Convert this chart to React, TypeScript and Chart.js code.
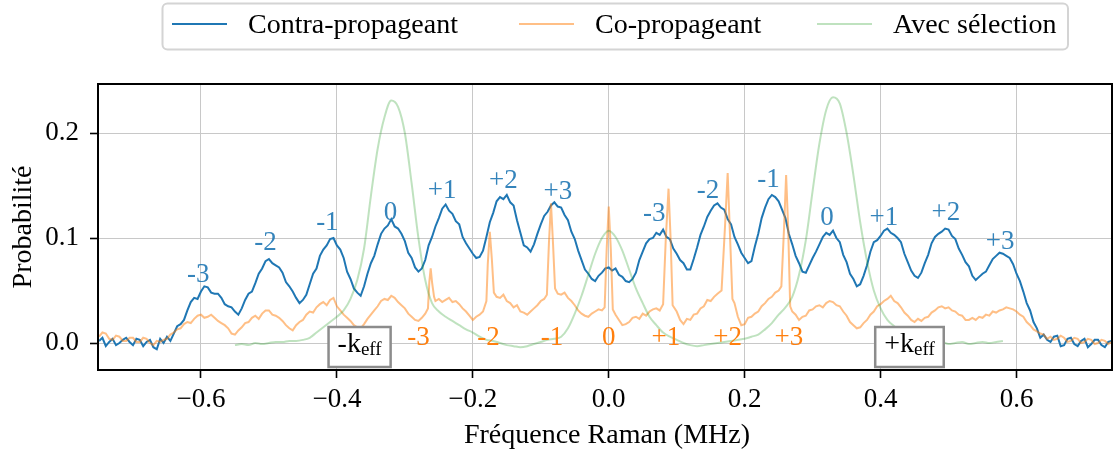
import React, { useEffect, useRef } from "react";
import { Chart, registerables } from "chart.js";

Chart.register(...registerables);

const FONT = '"Liberation Serif", "DejaVu Serif", serif';

// ---------- data ----------
const legendLabels = ["Contra-propageant", "Co-propageant", "Avec sélection"];
const xTicks = [-0.6, -0.4, -0.2, 0, 0.2, 0.4, 0.6];
const yTicks = [0, 0.1, 0.2];
const xLabel = "Fréquence Raman (MHz)";
const yLabel = "Probabilité";

// counter-propagating scan: frequency grid -0.75 ... 0.74 MHz, step 0.005
const contraFreq = Array.from({ length: 299 }, (_, i) => Math.round((-0.75 + i * 0.005) * 1000) / 1000);
const contraProb = [
  0.002, 0.005, -0.003, 0.001, 0.004, -0.002, 0.000, 0.003, 0.005, 0.001, -0.002, 0.004, 0.003, -0.003, 0.001, 0.003, -0.004, -0.006, 0.004, 0.000,
  0.006, 0.002, 0.009, 0.016, 0.018, 0.022, 0.031, 0.039, 0.043, 0.042, 0.049, 0.054, 0.053, 0.048, 0.047, 0.047, 0.043, 0.037, 0.035, 0.034,
  0.030, 0.027, 0.033, 0.041, 0.047, 0.049, 0.057, 0.066, 0.071, 0.078, 0.080, 0.076, 0.074, 0.072, 0.067, 0.058, 0.054, 0.049, 0.043, 0.038,
  0.041, 0.046, 0.056, 0.066, 0.071, 0.083, 0.089, 0.093, 0.099, 0.100, 0.093, 0.089, 0.081, 0.068, 0.061, 0.052, 0.048, 0.045, 0.054, 0.066,
  0.076, 0.083, 0.094, 0.104, 0.109, 0.112, 0.118, 0.111, 0.109, 0.104, 0.097, 0.086, 0.081, 0.072, 0.068, 0.071, 0.079, 0.093, 0.101, 0.111,
  0.119, 0.128, 0.132, 0.126, 0.123, 0.116, 0.113, 0.101, 0.095, 0.090, 0.085, 0.081, 0.082, 0.088, 0.101, 0.115, 0.124, 0.135, 0.139, 0.137,
  0.141, 0.134, 0.131, 0.117, 0.105, 0.093, 0.091, 0.087, 0.094, 0.104, 0.113, 0.121, 0.125, 0.131, 0.134, 0.130, 0.129, 0.122, 0.117, 0.106,
  0.099, 0.088, 0.079, 0.070, 0.066, 0.061, 0.059, 0.064, 0.067, 0.071, 0.072, 0.069, 0.071, 0.065, 0.063, 0.059, 0.058, 0.061, 0.067, 0.079,
  0.087, 0.095, 0.099, 0.100, 0.105, 0.103, 0.108, 0.101, 0.099, 0.090, 0.085, 0.079, 0.076, 0.070, 0.070, 0.080, 0.091, 0.103, 0.111, 0.120,
  0.126, 0.131, 0.133, 0.129, 0.127, 0.118, 0.113, 0.101, 0.094, 0.086, 0.081, 0.076, 0.078, 0.092, 0.104, 0.119, 0.129, 0.137, 0.141, 0.139,
  0.135, 0.127, 0.119, 0.104, 0.094, 0.083, 0.076, 0.068, 0.067, 0.074, 0.081, 0.087, 0.094, 0.101, 0.105, 0.103, 0.107, 0.100, 0.096, 0.084,
  0.077, 0.066, 0.061, 0.054, 0.056, 0.064, 0.074, 0.087, 0.096, 0.098, 0.102, 0.107, 0.109, 0.105, 0.103, 0.100, 0.096, 0.085, 0.077, 0.069,
  0.064, 0.062, 0.067, 0.076, 0.084, 0.095, 0.101, 0.104, 0.106, 0.109, 0.108, 0.102, 0.099, 0.090, 0.084, 0.077, 0.073, 0.064, 0.060, 0.063,
  0.066, 0.068, 0.074, 0.080, 0.083, 0.086, 0.085, 0.083, 0.081, 0.075, 0.066, 0.059, 0.049, 0.038, 0.031, 0.020, 0.014, 0.005, 0.008, 0.003,
  0.001, 0.006, 0.007, -0.003, -0.002, 0.004, 0.005, -0.001, -0.003, 0.002, 0.004, -0.004, -0.001, 0.003, 0.003, -0.002, -0.004, 0.001, 0.002,
];

// co-propagating scan: [frequency (MHz), probability]
const coSamples: [number, number][] = [
  [-0.75, 0.006], [-0.745, 0.010], [-0.74, 0.009], [-0.735, 0.004], [-0.73, 0.003], [-0.725, 0.007], [-0.72, 0.006], [-0.715, 0.002], [-0.71, 0.002], [-0.705, 0.005],
  [-0.70, 0.005], [-0.695, 0.001], [-0.69, 0.001], [-0.685, 0.005], [-0.68, 0.004], [-0.675, 0.000], [-0.67, -0.002], [-0.665, 0.002], [-0.66, 0.001], [-0.655, 0.003],
  [-0.65, 0.004], [-0.645, 0.008], [-0.64, 0.010], [-0.635, 0.013], [-0.63, 0.014], [-0.625, 0.018], [-0.62, 0.020], [-0.615, 0.019], [-0.61, 0.023], [-0.605, 0.026],
  [-0.60, 0.027], [-0.595, 0.024], [-0.59, 0.025], [-0.585, 0.027], [-0.58, 0.024], [-0.575, 0.021], [-0.57, 0.019], [-0.565, 0.017], [-0.56, 0.014], [-0.555, 0.009],
  [-0.55, 0.008], [-0.545, 0.012], [-0.54, 0.015], [-0.535, 0.019], [-0.53, 0.020], [-0.525, 0.024], [-0.52, 0.026], [-0.515, 0.023], [-0.51, 0.028], [-0.505, 0.031],
  [-0.50, 0.031], [-0.495, 0.027], [-0.49, 0.026], [-0.485, 0.024], [-0.48, 0.021], [-0.475, 0.017], [-0.47, 0.014], [-0.465, 0.012], [-0.46, 0.017], [-0.455, 0.020],
  [-0.45, 0.022], [-0.445, 0.027], [-0.44, 0.030], [-0.435, 0.029], [-0.43, 0.034], [-0.425, 0.037], [-0.42, 0.039], [-0.415, 0.036], [-0.41, 0.041], [-0.405, 0.043],
  [-0.40, 0.035], [-0.395, 0.031], [-0.39, 0.027], [-0.385, 0.024], [-0.38, 0.021], [-0.375, 0.017], [-0.37, 0.015], [-0.365, 0.014], [-0.36, 0.018], [-0.355, 0.023],
  [-0.35, 0.027], [-0.345, 0.031], [-0.34, 0.035], [-0.335, 0.040], [-0.33, 0.042], [-0.325, 0.041], [-0.32, 0.045], [-0.315, 0.043], [-0.31, 0.039], [-0.305, 0.036],
  [-0.30, 0.033], [-0.295, 0.028], [-0.29, 0.025], [-0.285, 0.022], [-0.28, 0.021], [-0.275, 0.024], [-0.27, 0.028],
  [-0.266, 0.033], [-0.264, 0.058], [-0.262, 0.071], [-0.26, 0.058], [-0.257, 0.044],
  [-0.255, 0.040], [-0.25, 0.042], [-0.245, 0.039], [-0.24, 0.041], [-0.235, 0.043], [-0.23, 0.039], [-0.225, 0.040], [-0.22, 0.037], [-0.215, 0.033], [-0.21, 0.030],
  [-0.205, 0.026], [-0.20, 0.022], [-0.195, 0.025], [-0.19, 0.027], [-0.185, 0.030],
  [-0.18, 0.040], [-0.178, 0.075], [-0.175, 0.106], [-0.172, 0.080], [-0.169, 0.048],
  [-0.165, 0.044], [-0.16, 0.043], [-0.155, 0.046], [-0.15, 0.040], [-0.145, 0.038], [-0.14, 0.034], [-0.135, 0.036], [-0.13, 0.030], [-0.125, 0.029], [-0.12, 0.027],
  [-0.115, 0.030], [-0.11, 0.033], [-0.105, 0.036], [-0.10, 0.040], [-0.095, 0.042],
  [-0.091, 0.046], [-0.088, 0.095], [-0.085, 0.133], [-0.082, 0.095], [-0.079, 0.052],
  [-0.075, 0.047], [-0.07, 0.046], [-0.065, 0.048], [-0.06, 0.043], [-0.055, 0.040], [-0.05, 0.036], [-0.045, 0.031], [-0.04, 0.028], [-0.035, 0.026], [-0.03, 0.025],
  [-0.025, 0.028], [-0.02, 0.030], [-0.015, 0.032], [-0.01, 0.031], [-0.006, 0.034],
  [-0.003, 0.090], [0.0, 0.130], [0.003, 0.090], [0.006, 0.032],
  [0.01, 0.027], [0.015, 0.022], [0.02, 0.017], [0.025, 0.018], [0.03, 0.020], [0.035, 0.024], [0.04, 0.025], [0.045, 0.023], [0.05, 0.028], [0.055, 0.026],
  [0.06, 0.030], [0.065, 0.032], [0.07, 0.033], [0.075, 0.031], [0.08, 0.037],
  [0.084, 0.100], [0.088, 0.147], [0.091, 0.100], [0.094, 0.036],
  [0.10, 0.030], [0.105, 0.022], [0.11, 0.018], [0.115, 0.023], [0.12, 0.022], [0.125, 0.027], [0.13, 0.028], [0.135, 0.033], [0.14, 0.035], [0.145, 0.041],
  [0.15, 0.040], [0.155, 0.044], [0.16, 0.047], [0.166, 0.050],
  [0.171, 0.110], [0.175, 0.162], [0.178, 0.110], [0.182, 0.042],
  [0.185, 0.038], [0.19, 0.025], [0.195, 0.017], [0.20, 0.018], [0.205, 0.024], [0.21, 0.025], [0.215, 0.028], [0.22, 0.030], [0.225, 0.035], [0.23, 0.038],
  [0.235, 0.042], [0.24, 0.044], [0.245, 0.048], [0.25, 0.050], [0.254, 0.054],
  [0.258, 0.110], [0.261, 0.160], [0.264, 0.110], [0.267, 0.035],
  [0.27, 0.030], [0.275, 0.027], [0.28, 0.022], [0.285, 0.025], [0.29, 0.026], [0.295, 0.031], [0.30, 0.032], [0.305, 0.035], [0.31, 0.036], [0.315, 0.034],
  [0.32, 0.038], [0.325, 0.040], [0.33, 0.039], [0.335, 0.036], [0.34, 0.035], [0.345, 0.030], [0.35, 0.026], [0.355, 0.020], [0.36, 0.017], [0.365, 0.014],
  [0.37, 0.015], [0.375, 0.019], [0.38, 0.022], [0.385, 0.027], [0.39, 0.030], [0.395, 0.035], [0.40, 0.037], [0.405, 0.040], [0.41, 0.042], [0.415, 0.045],
  [0.42, 0.040], [0.425, 0.038], [0.43, 0.034], [0.435, 0.029], [0.44, 0.026], [0.445, 0.022], [0.45, 0.020], [0.455, 0.023], [0.46, 0.021], [0.465, 0.024],
  [0.47, 0.025], [0.475, 0.029], [0.48, 0.031], [0.485, 0.034], [0.49, 0.035], [0.495, 0.033], [0.50, 0.034], [0.505, 0.031], [0.51, 0.030], [0.515, 0.027],
  [0.52, 0.026], [0.525, 0.022], [0.53, 0.022], [0.535, 0.024], [0.54, 0.022], [0.545, 0.025], [0.55, 0.024], [0.555, 0.027], [0.56, 0.026], [0.565, 0.030],
  [0.57, 0.029], [0.575, 0.031], [0.58, 0.032], [0.585, 0.034], [0.59, 0.033], [0.595, 0.032], [0.60, 0.030], [0.605, 0.027], [0.61, 0.025], [0.615, 0.020],
  [0.62, 0.017], [0.625, 0.013], [0.63, 0.011], [0.635, 0.009], [0.64, 0.008], [0.645, 0.004], [0.65, 0.006], [0.655, 0.003], [0.66, 0.004], [0.665, 0.007],
  [0.67, 0.005], [0.675, 0.001], [0.68, 0.002], [0.685, 0.005], [0.69, 0.004], [0.695, 0.000], [0.70, 0.001], [0.705, 0.004], [0.71, 0.003], [0.715, -0.001],
  [0.72, 0.000], [0.725, 0.003], [0.73, 0.002], [0.735, -0.001], [0.74, 0.001],
];

// with velocity selection
const selFreq = [
  -0.55, -0.54, -0.53, -0.52, -0.51, -0.50, -0.49, -0.48, -0.47, -0.46,
  -0.45, -0.44, -0.43, -0.42, -0.41, -0.40, -0.39, -0.38, -0.37, -0.36,
  -0.35, -0.34, -0.33, -0.32, -0.31, -0.30, -0.29, -0.28, -0.27, -0.26,
  -0.25, -0.24, -0.23, -0.22, -0.21, -0.20, -0.19, -0.18, -0.17, -0.16,
  -0.15, -0.14, -0.13, -0.12, -0.11, -0.10, -0.09, -0.08, -0.07, -0.06,
  -0.05, -0.04, -0.03, -0.02, -0.01, 0.00, 0.01, 0.02, 0.03, 0.04,
  0.05, 0.06, 0.07, 0.08, 0.09, 0.10, 0.11, 0.12, 0.13, 0.14,
  0.15, 0.16, 0.17, 0.18, 0.19, 0.20, 0.21, 0.22, 0.23, 0.24,
  0.25, 0.26, 0.27, 0.28, 0.29, 0.30, 0.31, 0.32, 0.33, 0.34,
  0.35, 0.36, 0.37, 0.38, 0.39, 0.40, 0.41, 0.42, 0.43, 0.44,
  0.45, 0.46, 0.47, 0.48, 0.49, 0.50, 0.51, 0.52, 0.53, 0.54,
  0.55, 0.56, 0.57, 0.58,
];
const selProb = [
  -0.002, -0.001, -0.002, 0.000, -0.001, 0.000, 0.001, 0.001, 0.002, 0.002,
  0.003, 0.005, 0.010, 0.015, 0.020, 0.025, 0.031, 0.042, 0.060, 0.090,
  0.140, 0.185, 0.215, 0.231, 0.225, 0.200, 0.152, 0.100, 0.060, 0.038,
  0.030, 0.025, 0.021, 0.017, 0.013, 0.010, 0.006, 0.003, 0.002, 0.000,
  -0.002, -0.003, -0.004, -0.003, -0.001, 0.001, 0.003, 0.004, 0.006, 0.014,
  0.028, 0.045, 0.065, 0.085, 0.100, 0.107, 0.101, 0.088, 0.070, 0.052,
  0.038, 0.025, 0.017, 0.010, 0.006, 0.003, 0.000, -0.002, -0.003, -0.002,
  -0.001, 0.000, 0.001, 0.002, 0.003, 0.004, 0.006, 0.008, 0.013, 0.019,
  0.027, 0.034, 0.044, 0.065, 0.098, 0.145, 0.190, 0.222, 0.234, 0.228,
  0.200, 0.160, 0.115, 0.078, 0.050, 0.033, 0.022, 0.016, 0.011, 0.007,
  0.004, 0.002, 0.000, -0.001, 0.001, -0.001, 0.000, 0.001, -0.001, 0.000,
  0.001, 0.000, 0.001, 0.002,
];

// order labels for the counter-propagating peaks
const contraLabels = ["-3", "-2", "-1", "0", "+1", "+2", "+3", "-3", "-2", "-1", "0", "+1", "+2", "+3"];
const contraLabelX = [-0.604, -0.505, -0.414, -0.321, -0.245, -0.155, -0.075, 0.067, 0.146, 0.235, 0.321, 0.405, 0.496, 0.576];
const contraLabelY = [0.067, 0.097, 0.116, 0.126, 0.147, 0.156, 0.146, 0.125, 0.147, 0.157, 0.121, 0.121, 0.126, 0.098];

// order labels for the co-propagating peaks
const coLabels = ["-3", "-2", "-1", "0", "+1", "+2", "+3"];
const coLabelX = [-0.28, -0.177, -0.0835, 0.0, 0.084, 0.175, 0.265];
const coLabelY = [0.0063, 0.0063, 0.0063, 0.0063, 0.0063, 0.0063, 0.0063];

// k_eff boxes
const keffMain = ["-k", "+k"];
const keffSub = ["eff", "eff"];
const keffX = [-0.3666, 0.4425];
const keffY = [-0.0038, -0.0038];

// ---------- styles ----------
const BLUE = "#1f77b4";
const ORANGE_LINE = "rgba(255,127,14,0.5)";
const GREEN_LINE = "rgba(44,160,44,0.3)";
const ORANGE_TEXT = "#ff7f0e";
const BLUE_TEXT = "rgba(31,119,180,0.9)";

const fmt = (v: number) => {
  const s = Math.abs(v).toFixed(1);
  return v < -1e-9 ? "\u2212" + s : s;
};

const overlayPlugin = {
  id: "overlay",
  afterDatasetsDraw(chart: any) {
    const { ctx, chartArea: a } = chart;
    const xs = chart.scales.x;
    const ys = chart.scales.y;
    ctx.save();

    ctx.textAlign = "center";
    ctx.textBaseline = "alphabetic";
    ctx.font = `27px ${FONT}`;
    ctx.fillStyle = BLUE_TEXT;
    contraLabels.forEach((t, i) => {
      ctx.fillText(t, xs.getPixelForValue(contraLabelX[i]), ys.getPixelForValue(contraLabelY[i]) + 9);
    });
    ctx.fillStyle = ORANGE_TEXT;
    coLabels.forEach((t, i) => {
      ctx.fillText(t, xs.getPixelForValue(coLabelX[i]), ys.getPixelForValue(coLabelY[i]) + 9);
    });

    keffMain.forEach((m, i) => {
      const cx = xs.getPixelForValue(keffX[i]);
      const cy = ys.getPixelForValue(keffY[i]);
      ctx.font = `28px ${FONT}`;
      const wm = ctx.measureText(m).width;
      ctx.font = `19px ${FONT}`;
      const wsb = ctx.measureText(keffSub[i]).width;
      const w = wm + wsb;
      const pad = 9;
      const bw = w + 2 * pad;
      const bh = 40;
      ctx.fillStyle = "#ffffff";
      ctx.fillRect(cx - bw / 2, cy - bh / 2, bw, bh);
      ctx.strokeStyle = "#8c8c8c";
      ctx.lineWidth = 2.5;
      ctx.strokeRect(cx - bw / 2, cy - bh / 2, bw, bh);
      ctx.fillStyle = "#000";
      ctx.textAlign = "left";
      ctx.font = `28px ${FONT}`;
      ctx.fillText(m, cx - w / 2, cy + 4.5);
      ctx.font = `19px ${FONT}`;
      ctx.fillText(keffSub[i], cx - w / 2 + wm, cy + 7.5);
      ctx.textAlign = "center";
    });

    ctx.strokeStyle = "#000";
    ctx.lineWidth = 2;
    ctx.strokeRect(a.left, a.top, a.right - a.left, a.bottom - a.top);
    ctx.restore();
  },
  afterDraw(chart: any) {
    const { ctx, chartArea: a } = chart;
    ctx.save();
    ctx.fillStyle = "#000";
    ctx.font = `28px ${FONT}`;
    ctx.textAlign = "center";
    ctx.textBaseline = "alphabetic";
    ctx.fillText(xLabel, (a.left + a.right) / 2 + 2, 443);
    ctx.save();
    ctx.translate(31, (a.top + a.bottom) / 2);
    ctx.rotate(-Math.PI / 2);
    ctx.fillText(yLabel, 0, 0);
    ctx.restore();

    const bx = 162.5, by = 3.5, bw = 905.5, bh = 46;
    ctx.beginPath();
    ctx.roundRect(bx, by, bw, bh, 5);
    ctx.fillStyle = "#ffffff";
    ctx.fill();
    ctx.strokeStyle = "#d4d4d4";
    ctx.lineWidth = 2;
    ctx.stroke();
    const lineX = [172, 519, 817];
    const textX = [248, 595, 893];
    const colors = [BLUE, ORANGE_LINE, GREEN_LINE];
    legendLabels.forEach((t, i) => {
      ctx.beginPath();
      ctx.moveTo(lineX[i], 24);
      ctx.lineTo(lineX[i] + 55, 24);
      ctx.strokeStyle = colors[i];
      ctx.lineWidth = 2;
      ctx.stroke();
      ctx.fillStyle = "#000";
      ctx.textAlign = "left";
      ctx.font = `28px ${FONT}`;
      ctx.fillText(t, textX[i], 33);
    });
    ctx.restore();
  },
};

export default function App() {
  const ref = useRef<HTMLCanvasElement | null>(null);
  useEffect(() => {
    if (!ref.current) return;
    const chart = new Chart(ref.current, {
      type: "line",
      data: {
        datasets: [
          {
            label: legendLabels[0],
            data: contraFreq.map((x, i) => ({ x, y: contraProb[i] })),
            borderColor: BLUE,
            borderWidth: 2,
            pointRadius: 0,
            tension: 0,
            order: 3,
          },
          {
            label: legendLabels[1],
            data: coSamples.map(([x, y]) => ({ x, y })),
            borderColor: ORANGE_LINE,
            borderWidth: 2,
            pointRadius: 0,
            tension: 0,
            order: 2,
          },
          {
            label: legendLabels[2],
            data: selFreq.map((x, i) => ({ x, y: selProb[i] })),
            borderColor: GREEN_LINE,
            borderWidth: 2,
            pointRadius: 0,
            cubicInterpolationMode: "monotone",
            order: 1,
          },
        ],
      },
      options: {
        animation: false,
        responsive: false,
        devicePixelRatio: 1,
        layout: { padding: { top: 84, right: 1, left: 0, bottom: 0 } },
        plugins: { legend: { display: false }, tooltip: { enabled: false } },
        scales: {
          x: {
            type: "linear",
            min: -0.7515,
            max: 0.7405,
            afterBuildTicks: (s: any) => {
              s.ticks = xTicks.map((v) => ({ value: v }));
            },
            afterFit: (s: any) => {
              s.height = 83;
            },
            ticks: {
              callback: (v: any) => fmt(Number(v)),
              font: { family: FONT, size: 27 },
              color: "#000",
              padding: 6,
              maxRotation: 0,
              autoSkip: false,
            },
            grid: { color: "#c8c8c8", lineWidth: 1, tickColor: "#000", tickLength: 8, tickWidth: 1.6 },
            border: { display: false },
          },
          y: {
            type: "linear",
            min: -0.0257,
            max: 0.2467,
            afterBuildTicks: (s: any) => {
              s.ticks = yTicks.map((v) => ({ value: v }));
            },
            afterFit: (s: any) => {
              s.width = 98;
            },
            ticks: {
              callback: (v: any) => fmt(Number(v)),
              font: { family: FONT, size: 27 },
              color: "#000",
              padding: 11,
            },
            grid: { color: "#c8c8c8", lineWidth: 1, tickColor: "#000", tickLength: 8, tickWidth: 1.6 },
            border: { display: false },
          },
        },
      },
      plugins: [overlayPlugin],
    } as any);
    return () => chart.destroy();
  }, []);
  return (
    <div style={{ position: "fixed", left: 0, top: 0, width: 1113, height: 453, background: "#fff" }}>
      <canvas ref={ref} width={1113} height={453} style={{ display: "block" }} />
    </div>
  );
}
